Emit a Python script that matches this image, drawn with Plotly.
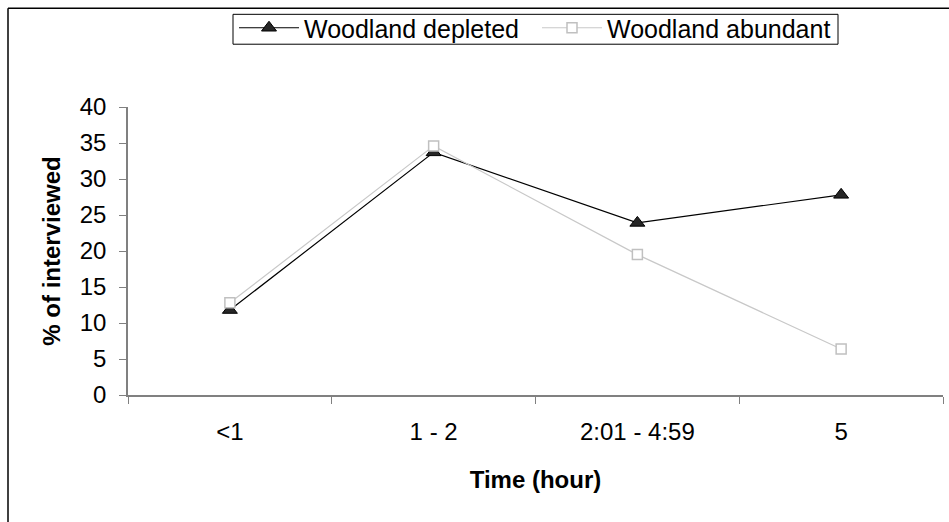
import plotly.graph_objects as go

categories = ["<1", "1 - 2", "2:01 - 4:59", "5"]
depleted = [11.8, 33.7, 23.9, 27.8]
abundant = [12.8, 34.6, 19.5, 6.4]
y_ticks = [0, 5, 10, 15, 20, 25, 30, 35, 40]

W, H = 949, 522
L, R, T, B = 128, 6, 106, 127
pw, ph = W - L - R, H - T - B

def px_x(x):
    return (x - L) / pw

def px_y(y):
    return (H - B - y) / ph

FONT = "Liberation Sans, Arial, sans-serif"

fig = go.Figure()
fig.add_trace(go.Scatter(
    x=categories, y=depleted, name="Woodland depleted", mode="lines+markers",
    line=dict(color="#000000", width=1.2),
    marker=dict(symbol="triangle-up", size=13, color="#262626", line=dict(color="#000000", width=1)),
))
fig.add_trace(go.Scatter(
    x=categories, y=abundant, name="Woodland abundant", mode="lines+markers",
    line=dict(color="#c8c8c8", width=1.2),
    marker=dict(symbol="square", size=10, color="#ffffff", line=dict(color="#c0c0c0", width=1.5)),
))

fig.update_layout(
    width=W, height=H,
    margin=dict(l=L, r=R, t=T, b=B),
    paper_bgcolor="white", plot_bgcolor="white",
    font=dict(family=FONT, size=24, color="#000000"),
    showlegend=True,
    legend=dict(
        orientation="h", x=px_x(234), y=px_y(28), xanchor="left", yanchor="middle",
        borderwidth=0, bgcolor="rgba(0,0,0,0)",
        font=dict(family=FONT, size=25), itemwidth=60, entrywidth=228,
        tracegroupgap=0,
    ),
    xaxis=dict(
        type="category", range=[-0.5, 3.5], tickson="boundaries",
        ticks="outside", ticklen=7, tickcolor="#808080",
        showline=True, linecolor="#808080", linewidth=1.5,
        showgrid=False, zeroline=False,
        tickfont=dict(family=FONT, size=24), ticklabelstandoff=14,
        title=dict(text="<b>Time (hour)</b>", font=dict(family=FONT, size=24), standoff=28),
    ),
    yaxis=dict(
        range=[0, 40], tickvals=y_ticks,
        ticks="outside", ticklen=7, tickcolor="#808080",
        showline=True, linecolor="#808080", linewidth=1.5,
        showgrid=False, zeroline=False,
        tickfont=dict(family=FONT, size=24), ticklabelstandoff=8,
        title=dict(text="<b>% of interviewed</b>", font=dict(family=FONT, size=24), standoff=12),
    ),
)

# outer chart frame (top and left edges visible)
fig.add_shape(type="line", xref="paper", yref="paper",
              x0=px_x(8), x1=px_x(960), y0=px_y(7), y1=px_y(7),
              line=dict(color="#000000", width=1.5))
fig.add_shape(type="line", xref="paper", yref="paper",
              x0=px_x(8), x1=px_x(8), y0=px_y(7), y1=px_y(530),
              line=dict(color="#000000", width=1.5))
# legend box
fig.add_shape(type="rect", xref="paper", yref="paper",
              x0=px_x(233), x1=px_x(838), y0=px_y(43), y1=px_y(13),
              line=dict(color="#000000", width=1), fillcolor="white", layer="above")

fig.write_html("out.html")
